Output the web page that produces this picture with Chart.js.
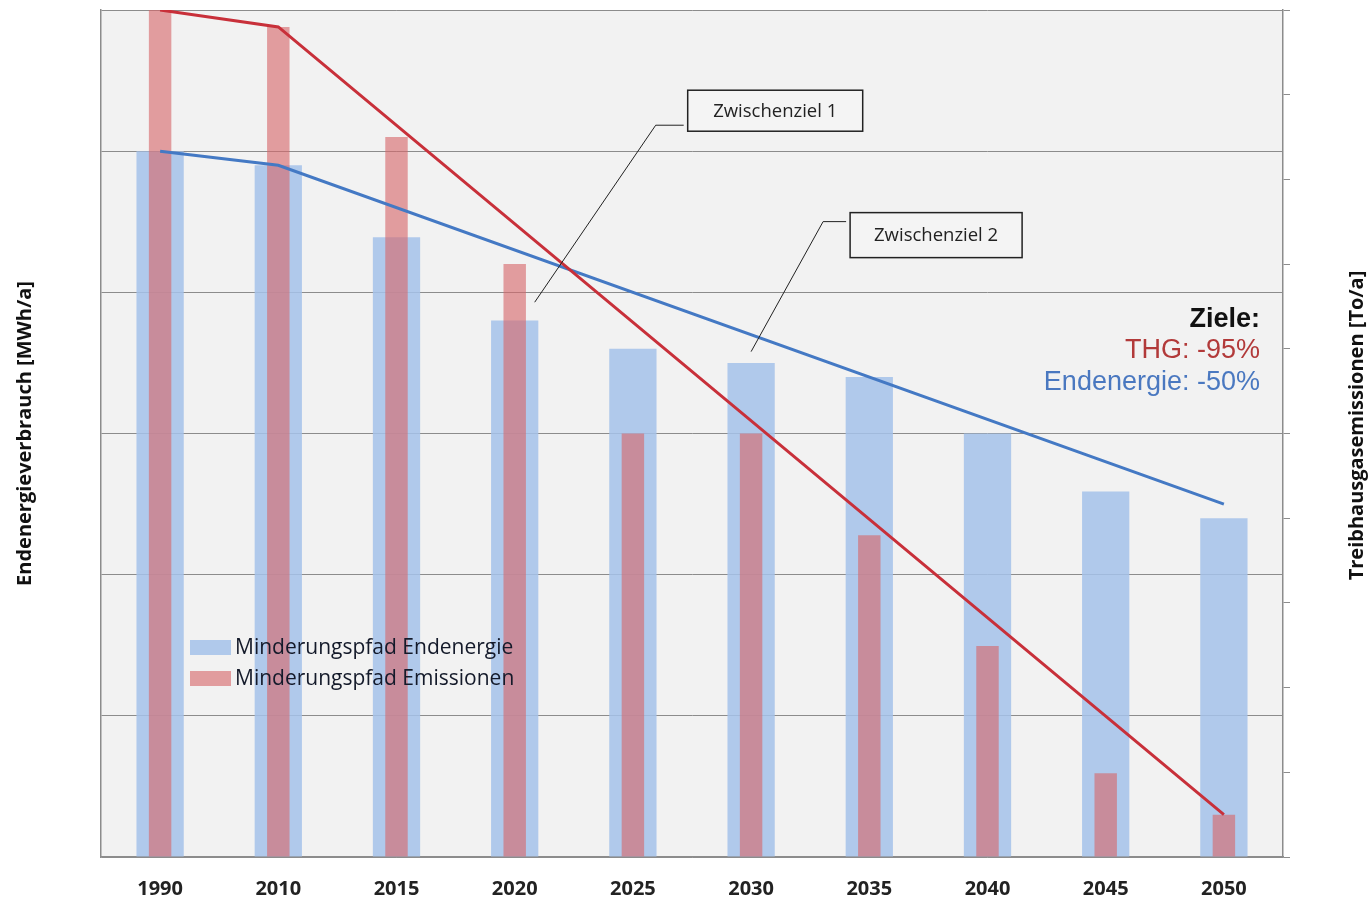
<!DOCTYPE html>
<html>
<head>
<meta charset="utf-8">
<script src="https://cdn.jsdelivr.net/npm/chart.js@4.4.1/dist/chart.umd.min.js"></script>
<style>
  html, body { margin: 0; padding: 0; background: #fff; }
  #wrap { position: relative; width: 1369px; height: 900px; }
</style>
</head>
<body>
<div id="wrap"><canvas id="chart" width="1369" height="900"></canvas></div>
<script>
// categories
var years = ['1990', '2010', '2015', '2020', '2025', '2030', '2035', '2040', '2045', '2050'];

// Endenergie (left axis, grid units)
var endenergieBars = [5.0, 4.9, 4.39, 3.8, 3.6, 3.5, 3.4, 3.0, 2.59, 2.4];
// Emissionen (right axis)
var emissionBars = [10.0, 9.8, 8.5, 7.0, 5.0, 5.0, 3.8, 2.49, 0.99, 0.5];

// target paths, only the corner points are given, the rest is spanned
var endenergiePath = [5.0, 4.9, null, null, null, null, null, null, null, 2.5];
var emissionPath = [10.0, 9.8, null, null, null, null, null, null, null, 0.5];

var legendLabels = ['Minderungspfad Endenergie', 'Minderungspfad Emissionen'];
var callouts = [
  { text: 'Zwischenziel 1', year: '2020', value: 3.93 },
  { text: 'Zwischenziel 2', year: '2030', value: 3.58 }
];
var goalLines = ['Ziele:', 'THG: -95%', 'Endenergie: -50%'];
var leftTitle = 'Endenergieverbrauch [MWh/a]';
var rightTitle = 'Treibhausgasemissionen [To/a]';

var BLUE_BAR = 'rgba(165,194,234,0.85)';
var RED_BAR = 'rgba(214,104,106,0.62)';
var RED_LINE = '#c8303a';
var BLUE_LINE = '#4479c4';
var GRID = '#8c8c8c';

// plot area background
var plotBackground = {
  id: 'plotBackground',
  beforeDraw: function(chart) {
    var a = chart.chartArea, ctx = chart.ctx;
    ctx.save();
    ctx.fillStyle = '#f2f2f2';
    ctx.fillRect(a.left, a.top, a.right - a.left, a.bottom - a.top);
    ctx.restore();
  }
};

var extras = {
  id: 'extras',
  afterDraw: function(chart) {
    var ctx = chart.ctx, a = chart.chartArea;
    var x = chart.scales.x, y = chart.scales.y;
    ctx.save();

    // axis titles, both read bottom to top
    ctx.fillStyle = '#111';
    ctx.font = 'bold 20px "Open Sans"';
    ctx.textAlign = 'center';
    ctx.textBaseline = 'middle';
    ctx.save();
    ctx.translate(25, (a.top + a.bottom) / 2);
    ctx.rotate(-Math.PI / 2);
    ctx.fillText(leftTitle, 0, 0);
    ctx.restore();
    ctx.save();
    ctx.translate(1357, (a.top + a.bottom) / 2 - 8);
    ctx.rotate(-Math.PI / 2);
    ctx.fillText(rightTitle, 0, 0);
    ctx.restore();

    // legend inside the plot
    var colors = [BLUE_BAR, RED_BAR];
    ctx.font = '21px "Open Sans"';
    ctx.textAlign = 'left';
    for (var i = 0; i < legendLabels.length; i++) {
      var ly = 647 + i * 31;
      ctx.fillStyle = colors[i];
      ctx.fillRect(190, ly - 7, 41, 15);
      ctx.fillStyle = '#141a2a';
      ctx.fillText(legendLabels[i], 235, ly + 1);
    }

    // callouts
    var offsets = [
      { ex: 121, ey: -177, bx: 153, by: -212, bw: 175, bh: 41 },
      { ex: 72, ey: -130, bx: 99, by: -139, bw: 172, bh: 45 }
    ];
    ctx.font = '18.5px "Open Sans"';
    ctx.textAlign = 'center';
    for (var j = 0; j < callouts.length; j++) {
      var c = callouts[j], o = offsets[j];
      var px = x.getPixelForValue(years.indexOf(c.year)) + (j === 0 ? 20 : 0);
      var py = y.getPixelForValue(c.value);
      ctx.strokeStyle = '#222';
      ctx.lineWidth = 1;
      ctx.beginPath();
      ctx.moveTo(px, py);
      ctx.lineTo(px + o.ex, py + o.ey);
      ctx.lineTo(px + o.bx - 4, py + o.ey);
      ctx.stroke();
      ctx.fillStyle = '#f4f4f4';
      ctx.fillRect(px + o.bx, py + o.by, o.bw, o.bh);
      ctx.lineWidth = 1.5;
      ctx.strokeRect(px + o.bx, py + o.by, o.bw, o.bh);
      ctx.fillStyle = '#222';
      ctx.fillText(c.text, px + o.bx + o.bw / 2, py + o.by + o.bh / 2 + 1);
    }

    // goals
    ctx.textAlign = 'right';
    ctx.textBaseline = 'alphabetic';
    ctx.font = 'bold 27px "Liberation Sans"';
    ctx.fillStyle = '#111';
    ctx.fillText(goalLines[0], 1260, 327);
    ctx.font = '27px "Liberation Sans"';
    ctx.fillStyle = '#b23a3a';
    ctx.fillText(goalLines[1], 1260, 358);
    ctx.fillStyle = '#4a78c0';
    ctx.fillText(goalLines[2], 1260, 390);

    ctx.restore();
  }
};

new Chart(document.getElementById('chart').getContext('2d'), {
  type: 'bar',
  data: {
    labels: years,
    datasets: [
      {
        type: 'line', label: 'Pfad Emissionen', data: emissionPath, yAxisID: 'y1',
        borderColor: RED_LINE, borderWidth: 3, pointRadius: 0, spanGaps: true, tension: 0, order: 0
      },
      {
        type: 'line', label: 'Pfad Endenergie', data: endenergiePath, yAxisID: 'y',
        borderColor: BLUE_LINE, borderWidth: 3, pointRadius: 0, spanGaps: true, tension: 0, order: 0
      },
      {
        label: legendLabels[1], data: emissionBars, yAxisID: 'y1', backgroundColor: RED_BAR,
        grouped: false, categoryPercentage: 1, barPercentage: 0.19, order: 1
      },
      {
        label: legendLabels[0], data: endenergieBars, yAxisID: 'y', backgroundColor: BLUE_BAR,
        grouped: false, categoryPercentage: 1, barPercentage: 0.40, order: 2
      }
    ]
  },
  options: {
    responsive: false,
    animation: false,
    layout: { padding: { top: 10 } },
    plugins: { legend: { display: false }, tooltip: { enabled: false } },
    scales: {
      x: {
        grid: { display: false },
        border: { color: GRID, width: 1.5 },
        ticks: { color: '#222', font: { family: 'Open Sans', size: 20, weight: 'bold' }, padding: 12 },
        afterFit: function(s) { s.height = 43; }
      },
      y: {
        position: 'left', min: 0, max: 6,
        ticks: { display: false, stepSize: 1 },
        grid: { color: GRID, lineWidth: 1, drawTicks: false },
        border: { color: GRID, width: 1.5 },
        afterFit: function(s) { s.width = 101; }
      },
      y1: {
        position: 'right', min: 0, max: 10,
        ticks: { display: false, stepSize: 1 },
        grid: { drawOnChartArea: false, drawTicks: true, tickLength: 7, color: GRID },
        border: { color: GRID, width: 1.5 },
        afterFit: function(s) { s.width = 86; }
      }
    }
  },
  plugins: [plotBackground, extras]
});
</script>
</body>
</html>
